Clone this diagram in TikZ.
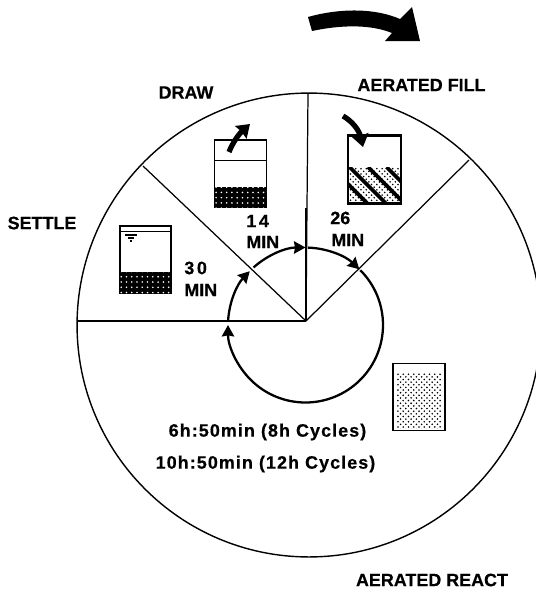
\documentclass[tikz,border=0pt]{standalone}
\usepackage{fontspec}
\setmainfont{Liberation Sans}[FakeBold=0.5]
\usetikzlibrary{arrows.meta, patterns}

\begin{document}
\begin{tikzpicture}[
    x=0.02cm, y=-0.02cm,
    label/.style = {font=\fontsize{10.2}{12}\selectfont\bfseries, inner sep=0pt},
    wide/.style = {label, font=\fontsize{10.2}{12}\selectfont\bfseries\addfontfeature{LetterSpace=6}},
    tank/.style = {rectangle, draw=black, line width=0.9pt, inner sep=0pt, minimum width=1.04cm, minimum height=1.34cm},
    wheel/.style = {circle, draw=black, line width=0.8pt, inner sep=0pt, minimum size=9.28cm},
    arm/.style = {line width=0.7pt},
    ring/.style = {line width=1.3pt, -{Stealth[length=6.5pt,width=7pt,inset=0.6pt]}},
    pour/.style = {line width=3pt, -{Stealth[length=7pt,width=9.5pt,inset=0.5pt]}}
]
    \useasboundingbox (0,0) rectangle (536,593);

    % Wheel and arms
    \coordinate (hub) at (306,321);
    \node[wheel] (wheel) at (309,325) {};
    \coordinate (armN) at (308,94);
    \coordinate (armW) at (78,321);
    \coordinate (armNW) at (143,166);
    \coordinate (armNE) at (469,160);
    \coordinate (armThick) at (306,208);
    \draw[arm] (hub) -- (armN);
    \draw[arm] (hub) -- (armW);
    \draw[arm] (hub) -- (armNW);
    \draw[arm] (hub) -- (armNE);
    \draw[line width=1.6pt] (hub) -- (armThick);

    % Phase durations
    \coordinate (ringNE) at (360.3,270.2);
    \coordinate (ringW) at (228.1,321);
    \coordinate (ringNW) at (253.6,267.4);
    \coordinate (ringN) at (308.2,247.6);
    \draw[ring] (ringNE) arc[start angle=-45, end angle=180, radius=77.5];
    \draw[ring] (ringW) arc[start angle=183, end angle=224, radius=77.5];
    \draw[ring] (ringNW) arc[start angle=228, end angle=270, radius=77.5];
    \draw[ring] (ringN) arc[start angle=272, end angle=314, radius=77.5];

    % Turning arrow
    \fill (308,17) .. controls (340,8) and (375,8) .. (400,19) -- (412,7) -- (420,41) -- (385,41)
        -- (392,33) .. controls (370,24) and (340,25) .. (312,31) -- cycle;

    % Settle tank
    \node[tank, minimum width=1.02cm] (settletank) at (145.5,259.5) {};
    \fill[black] (settletank.south west) rectangle (171,272);
    \fill[pattern=dots, pattern color=white] (settletank.south west) rectangle (171,272);
    \draw[line width=0.5pt] (120,231) -- (171,231);
    \draw[line width=0.9pt] (125,235) -- (137,235);
    \draw[line width=0.6pt] (128,238) -- (134,238);
    \draw[line width=0.6pt] (130,241) -- (132,241);

    % Draw tank
    \node[tank] (drawtank) at (240.5,173.5) {};
    \fill[black] (drawtank.south west) rectangle (266.5,187);
    \fill[pattern=dots, pattern color=white] (drawtank.south west) rectangle (266.5,187);
    \draw[line width=0.5pt] (214.5,160) -- (266.5,160);
    \coordinate (drawout) at (250,124);
    \draw[pour] (229,152) .. controls (233,142) and (239,134) .. (drawout);

    % Fill tank
    \node[tank] (filltank) at (374.5,169.5) {};
    \begin{scope}
        \clip (348.5,167) rectangle (400.5,203);
        \fill[pattern=crosshatch dots] (348.5,167) rectangle (400.5,203);
        \foreach \i in {0,1,2,3} {
            \draw[line width=2.2pt] (331+\i*18.5,167) -- (371+\i*18.5,207);
        }
    \end{scope}
    \draw[line width=0.9pt] (filltank.south west) rectangle (filltank.north east);
    \coordinate (fillin) at (363,147);
    \draw[pour] (343,116) .. controls (352,121) and (359,130) .. (fillin);

    % React tank
    \node[tank] (reacttank) at (419,397) {};
    \fill[pattern=crosshatch dots] (397,373) rectangle (441,428);

    % Labels
    \node[label] (drawlabel) at (186,92.5) {DRAW};
    \node[label] (filllabel) at (421.5,85) {AERATED FILL};
    \node[label] (settlelabel) at (42,223) {SETTLE};
    \node[label] (reactlabel) at (432,580) {AERATED REACT};
    \node[label, anchor=west] (settlenum) at (184,268) {3\hspace{1.5pt}0};
    \node[label, anchor=west] (settlemin) at (184,290) {MIN};
    \node[label, anchor=west] (drawnum) at (246,221) {1\hspace{1.5pt}4};
    \node[label, anchor=west] (drawmin) at (246,242) {MIN};
    \node[label, anchor=west] (fillnum) at (330,218) {26};
    \node[label, anchor=west] (fillmin) at (331,240) {MIN};
    \node[wide] (cycleeight) at (267.5,432) {6h:50min (8h Cycles)};
    \node[wide] (cycletwelve) at (265.5,464) {10h:50min (12h Cycles)};

\end{tikzpicture}
\end{document}
